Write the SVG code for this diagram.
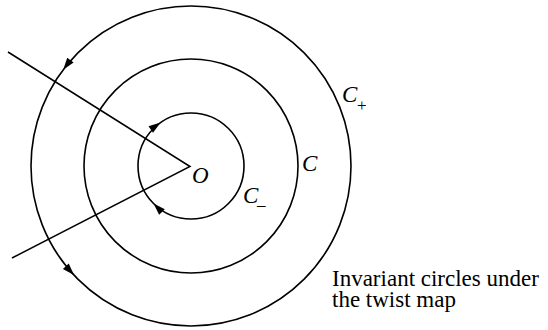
<svg xmlns="http://www.w3.org/2000/svg" width="548" height="330" viewBox="0 0 548 330">
<style>
.c{fill:none;stroke:#000;stroke-width:1.6}
.l{fill:none;stroke:#000;stroke-width:1.5}
text{font-family:'Liberation Serif','Times New Roman','DejaVu Serif',serif;fill:#000}
.lab{font-style:italic;font-size:23px}
.sub{font-size:17px}
.cap{font-size:23px}
</style>
<defs>
<path id="ah" d="M0,0 L-12,-4 L-12,4 Z" fill="#000"/>
</defs>
<rect width="548" height="330" fill="#fff"/>
<g id="connectors">
<path class="l" d="M8,52 L190,166.5 L12,258"/>
<use href="#ah" transform="translate(63.2,69.7) rotate(127)"/>
<use href="#ah" transform="translate(74,275.1) rotate(47)"/>
<use href="#ah" transform="translate(160.6,122.6) rotate(-35)"/>
<use href="#ah" transform="translate(153.5,203.5) rotate(-135)"/>
</g>
<g id="C_plus">
<circle class="c" cx="191" cy="166" r="160"/>
<text class="lab" x="342" y="102">C</text>
<text class="sub" x="357" y="111">+</text>
</g>
<g id="C">
<circle class="c" cx="191" cy="166" r="107"/>
<text class="lab" x="302" y="171">C</text>
</g>
<g id="C_minus">
<circle class="c" cx="191" cy="166" r="53"/>
<text class="lab" x="243" y="203">C</text>
<text class="sub" x="257" y="210">–</text>
</g>
<g id="O">
<text class="lab" x="192" y="183">O</text>
</g>
<g id="caption">
<text class="cap" x="332" y="285.5">Invariant circles under</text>
<text class="cap" x="332" y="307">the twist map</text>
</g>
</svg>
